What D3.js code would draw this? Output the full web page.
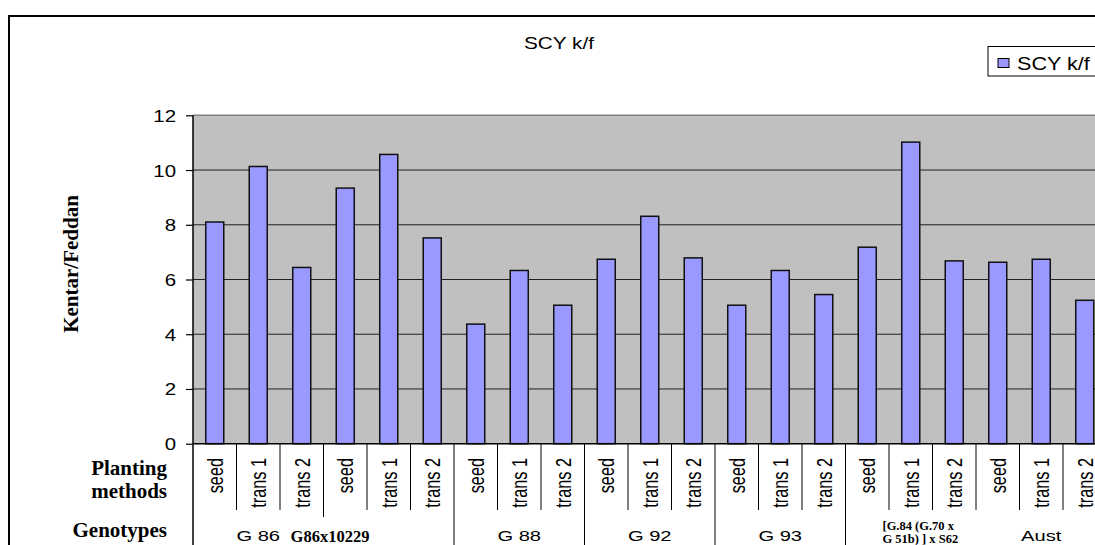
<!DOCTYPE html>
<html>
<head>
<meta charset="utf-8">
<script src="https://cdn.jsdelivr.net/npm/d3@7"></script>
<style>
  body { margin: 0; background: #fff; }
  svg { display: block; }
  .sans { font-family: "Liberation Sans", Arial, sans-serif; }
  .serif { font-family: "Liberation Serif", "Times New Roman", serif; font-weight: bold; }
</style>
</head>
<body>
<div id="chart"></div>
<script>
// data
var seriesName = "SCY k/f";
var methods = ["seed", "trans 1", "trans 2", "seed", "trans 1", "trans 2",
    "seed", "trans 1", "trans 2", "seed", "trans 1", "trans 2",
    "seed", "trans 1", "trans 2", "seed", "trans 1", "trans 2",
    "seed", "trans 1", "trans 2"];
var scyValues = [8.1, 10.13, 6.44, 9.34, 10.57, 7.52,
    4.37, 6.33, 5.06, 6.74, 8.31, 6.79,
    5.06, 6.33, 5.45, 7.18, 11.02, 6.68,
    6.63, 6.74, 5.24];
var genotypes = ["G 86", "G86x10229", "G 88", "G 92", "G 93", "[G.84 (G.70 x|G 51b) ] x S62", "Aust"];
var groupBreaks = [0, 6, 9, 12, 15];
var yTicks = [0, 2, 4, 6, 8, 10, 12];

var W = 1095, H = 545;
var plotLeft = 193, plotTop = 115.3, plotBottom = 443.7;
var step = 43.5;
var sx = 1.3; // reference text is stretched sideways

var svg = d3.select("#chart").append("svg")
    .attr("width", W)
    .attr("height", H);

// outer frame (runs off the right and bottom edge)
svg.append("rect")
    .attr("x", 9).attr("y", 16)
    .attr("width", 1200).attr("height", 700)
    .attr("fill", "none")
    .attr("stroke", "#000")
    .attr("stroke-width", 2);

var x = d3.scaleBand()
    .domain(d3.range(methods.length))
    .range([plotLeft, plotLeft + step * methods.length])
    .paddingInner(0.586)
    .paddingOuter(0.293);

var y = d3.scaleLinear()
    .domain([0, 12])
    .range([plotBottom, plotTop]);

function edge(i) { return plotLeft + i * x.step(); }

// plot area
svg.append("rect")
    .attr("x", plotLeft).attr("y", plotTop)
    .attr("width", W - plotLeft + 20).attr("height", plotBottom - plotTop)
    .attr("fill", "#c0c0c0");
svg.append("line")
    .attr("x1", plotLeft).attr("x2", W)
    .attr("y1", plotTop).attr("y2", plotTop)
    .attr("stroke", "#808080").attr("stroke-width", 1.5);

// gridlines
svg.append("g")
    .selectAll("line")
    .data(yTicks.filter(d => d > 0 && d < 12))
    .join("line")
    .attr("x1", plotLeft).attr("x2", W)
    .attr("y1", d => y(d)).attr("y2", d => y(d))
    .attr("stroke", "#222").attr("stroke-width", 1);

// bars
svg.append("g")
    .selectAll("rect")
    .data(scyValues)
    .join("rect")
    .attr("x", (d, i) => x(i))
    .attr("y", d => y(d))
    .attr("width", x.bandwidth())
    .attr("height", d => y(0) - y(d))
    .attr("fill", "#9999ff")
    .attr("stroke", "#111")
    .attr("stroke-width", 1.5);

// y axis
var yAxis = svg.append("g")
    .attr("transform", `translate(${plotLeft},0)`)
    .call(d3.axisLeft(y).tickValues(yTicks).tickSize(7).tickPadding(10).tickSizeOuter(0));
yAxis.select(".domain").attr("stroke", "#000").attr("stroke-width", 1.5)
    .attr("d", `M0,${plotTop}V${H}`);
yAxis.selectAll(".tick line").attr("stroke", "#000").attr("stroke-width", 1.2);
yAxis.selectAll(".tick text")
    .attr("class", "sans")
    .attr("font-size", 17)
    .attr("fill", "#000")
    .attr("x", null).attr("dy", null)
    .attr("text-anchor", "end")
    .attr("transform", "translate(-17,6) scale(1.2,1)");

// x axis baseline
svg.append("line")
    .attr("x1", plotLeft).attr("x2", W)
    .attr("y1", plotBottom).attr("y2", plotBottom)
    .attr("stroke", "#000").attr("stroke-width", 1.5);

// category separators
svg.append("g")
    .selectAll("line")
    .data(d3.range(1, methods.length))
    .join("line")
    .attr("x1", i => edge(i)).attr("x2", i => edge(i))
    .attr("y1", plotBottom)
    .attr("y2", i => groupBreaks.includes(i) ? H : (i === 3 ? 517 : 510))
    .attr("stroke", "#000").attr("stroke-width", 1);

// planting method labels
svg.append("g")
    .selectAll("text")
    .data(methods)
    .join("text")
    .attr("class", "sans")
    .attr("font-size", 16.3)
    .attr("text-anchor", "end")
    .attr("transform", (d, i) => `translate(${x(i) + x.bandwidth() / 2 + 8},458) scale(${sx},1) rotate(-90)`)
    .text(d => d);

// genotype labels
var gx = [1.5, 3.15, 7.5, 10.5, 13.5, 15.85, 19.5];
genotypes.forEach(function (g, i) {
    var cx = plotLeft + gx[i] * x.step();
    if (g.indexOf("|") >= 0) {
        var parts = g.split("|");
        svg.append("text")
            .attr("class", "serif")
            .attr("font-size", 12.5)
            .attr("x", cx).attr("y", 530)
            .text(parts[0]);
        svg.append("text")
            .attr("class", "serif")
            .attr("font-size", 12.5)
            .attr("x", cx).attr("y", 543)
            .text(parts[1]);
    } else if (/^G\d/.test(g)) {
        svg.append("text")
            .attr("class", "serif")
            .attr("font-size", 16.5)
            .attr("text-anchor", "middle")
            .attr("x", cx).attr("y", 542)
            .text(g);
    } else {
        svg.append("text")
            .attr("class", "sans")
            .attr("font-size", 15.5)
            .attr("text-anchor", "middle")
            .attr("transform", `translate(${cx},541) scale(${sx},1)`)
            .text(g);
    }
});

// left row labels
var rowLabels = [["Planting", 475], ["methods", 498], ["Genotypes", 537]];
svg.append("g")
    .selectAll("text")
    .data(rowLabels)
    .join("text")
    .attr("class", "serif")
    .attr("font-size", 21)
    .attr("text-anchor", "end")
    .attr("x", 167)
    .attr("y", d => d[1])
    .text(d => d[0]);

// y axis title
svg.append("text")
    .attr("class", "serif")
    .attr("font-size", 21)
    .attr("text-anchor", "middle")
    .attr("transform", "translate(78,264) rotate(-90)")
    .text("Kentar/Feddan");

// chart title
svg.append("text")
    .attr("class", "sans")
    .attr("font-size", 16)
    .attr("text-anchor", "middle")
    .attr("transform", `translate(559,49) scale(${sx},1)`)
    .text(seriesName);

// legend
var legend = svg.append("g");
legend.append("rect")
    .attr("x", 988).attr("y", 46.5)
    .attr("width", 150).attr("height", 29.5)
    .attr("fill", "#fff")
    .attr("stroke", "#000").attr("stroke-width", 1);
legend.append("rect")
    .attr("x", 998).attr("y", 58.5)
    .attr("width", 11).attr("height", 9)
    .attr("fill", "#9999ff")
    .attr("stroke", "#000").attr("stroke-width", 1);
legend.append("text")
    .attr("class", "sans")
    .attr("font-size", 18)
    .attr("transform", "translate(1017,69.5) scale(1.2,1)")
    .text(seriesName);
</script>
</body>
</html>
